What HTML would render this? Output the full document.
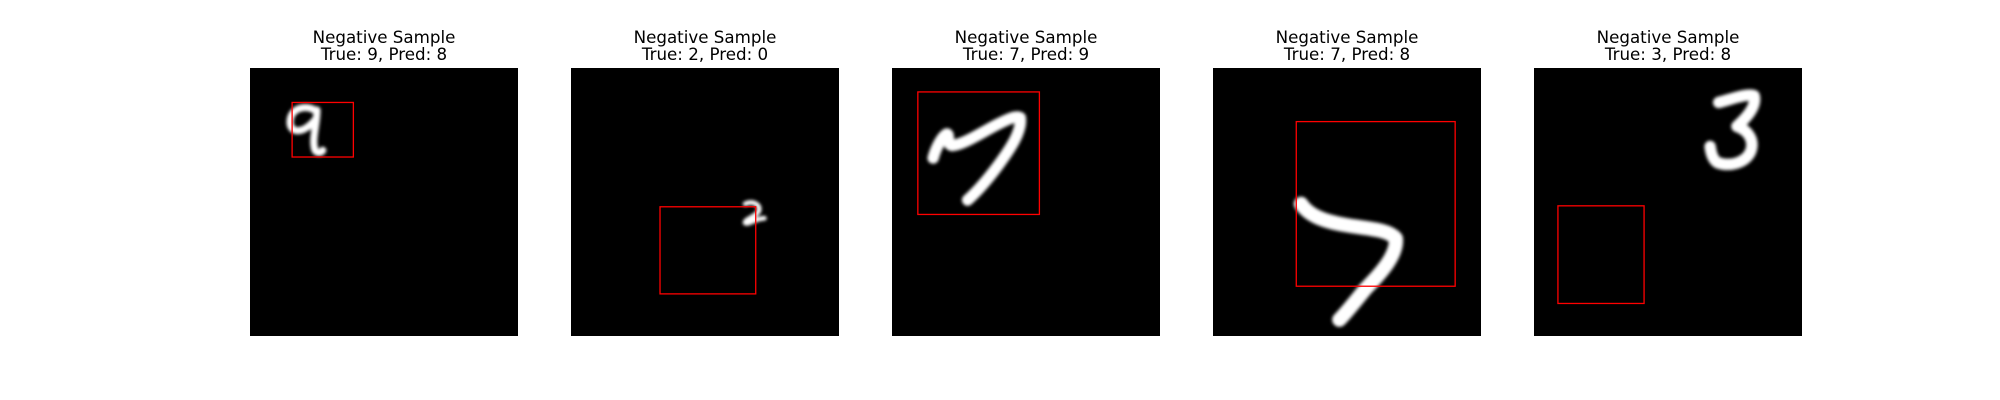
<!DOCTYPE html>
<html><head><meta charset="utf-8">
<style>
html,body{margin:0;padding:0;background:#fff;}
svg{display:block;}
text{font-family:"DejaVu Sans","Liberation Sans",sans-serif;font-size:16.7px;fill:#000;}
</style></head>
<body>
<svg id="fig" width="2000" height="400" viewBox="0 0 2000 400">
<defs><filter id="blur" filterUnits="userSpaceOnUse" x="0" y="0" width="2000" height="400"><feGaussianBlur stdDeviation="1.6"/></filter></defs>
</svg>
<script>
const trueLabels = [9, 2, 7, 7, 3];
const predLabels = [8, 0, 9, 8, 8];
const boxX0 = [4.4, 9.3, 2.7, 8.7, 2.5];
const boxY0 = [3.6, 14.5, 2.5, 5.6, 14.4];
const boxX1 = [10.8, 19.3, 15.4, 25.3, 11.5];
const boxY1 = [9.3, 23.6, 15.3, 22.8, 24.6];
const digitPaths = [
  "M7.0,4.6 C6.2,3.8 4.4,4.0 4.2,5.4 C4.0,6.9 5.6,7.0 6.9,5.3 M7.0,4.4 C7.0,6 6.4,7.5 6.8,8.6 C7.1,9.0 7.5,8.8 7.6,8.6",
  "M18.2,14.2 C19.0,13.8 19.9,14.3 19.6,15.0 C19.2,15.6 18.1,15.8 18.2,16.2 C18.5,16.4 19.3,15.7 20.2,15.7",
  "M4.3,9.4 C4.6,8.3 5.2,7.2 5.7,6.9 C6.1,6.8 5.6,8.0 6.3,8.1 C7.5,8.0 9.6,6.6 11.0,5.9 C12.0,5.4 13.0,4.9 13.4,5.2 C13.6,6.6 12.4,8.4 11.0,10.3 C9.8,11.9 8.8,13.0 7.9,13.8",
  "M9.2,14.2 C10.0,15.4 11.5,16.0 13.8,16.4 C16.0,16.8 18.2,16.8 19.1,17.8 C19.3,19.5 17.5,21.5 16.0,23.0 C15.0,24.2 14.0,25.5 13.2,26.3",
  "M19.3,3.6 C20.5,3.3 22.3,2.6 23.0,2.9 C23.3,4.0 22.2,5.2 21.2,6.1 C22.4,6.5 23.1,7.6 22.6,8.8 C22.0,10.0 20.4,10.3 19.2,9.9 C18.7,9.6 18.5,9.0 18.4,8.2"
];
const strokeW = [0.75, 0.5, 1.2, 1.5, 1.2];
const panelX = 250, panelStep = 321, panelY = 68, panelSize = 268, imgUnits = 28;
const svg = document.getElementById('fig');
const NS = 'http://www.w3.org/2000/svg';
const sc = panelSize / imgUnits;
for (let i = 0; i < trueLabels.length; i++) {
  const px = panelX + i * panelStep;
  const g = document.createElementNS(NS, 'g');
  
  
  svg.appendChild(g);
  const t1 = document.createElementNS(NS, 'text');
  
  
  t1.setAttribute('x', px + panelSize / 2); t1.setAttribute('y', 43);
  t1.setAttribute('text-anchor', 'middle');
  t1.textContent = 'Negative Sample';
  g.appendChild(t1);
  const t2 = document.createElementNS(NS, 'text');
  
  
  t2.setAttribute('x', px + panelSize / 2); t2.setAttribute('y', 60);
  t2.setAttribute('text-anchor', 'middle');
  t2.textContent = 'True: ' + trueLabels[i] + ', Pred: ' + predLabels[i];
  g.appendChild(t2);
  const bg = document.createElementNS(NS, 'rect');
  
  
  bg.setAttribute('x', px); bg.setAttribute('y', panelY);
  bg.setAttribute('width', panelSize); bg.setAttribute('height', panelSize);
  bg.setAttribute('fill', '#000');
  g.appendChild(bg);
  const dg = document.createElementNS(NS, 'g');
  
  
  dg.setAttribute('filter', 'url(#blur)');
  g.appendChild(dg);
  const d = document.createElementNS(NS, 'path');
  
  
  d.setAttribute('d', digitPaths[i]);
  d.setAttribute('transform', 'translate(' + px + ',' + panelY + ') scale(' + sc + ')');
  d.setAttribute('fill', 'none'); d.setAttribute('stroke', '#fff');
  d.setAttribute('stroke-width', strokeW[i]);
  d.setAttribute('stroke-linecap', 'round'); d.setAttribute('stroke-linejoin', 'round');
  dg.appendChild(d);
  const b = document.createElementNS(NS, 'rect');
  
  
  b.setAttribute('x', px + boxX0[i] * sc); b.setAttribute('y', panelY + boxY0[i] * sc);
  b.setAttribute('width', (boxX1[i] - boxX0[i]) * sc); b.setAttribute('height', (boxY1[i] - boxY0[i]) * sc);
  b.setAttribute('fill', 'none'); b.setAttribute('stroke', '#ff0000'); b.setAttribute('stroke-width', 1.3);
  g.appendChild(b);
}
</script>
</body></html>
